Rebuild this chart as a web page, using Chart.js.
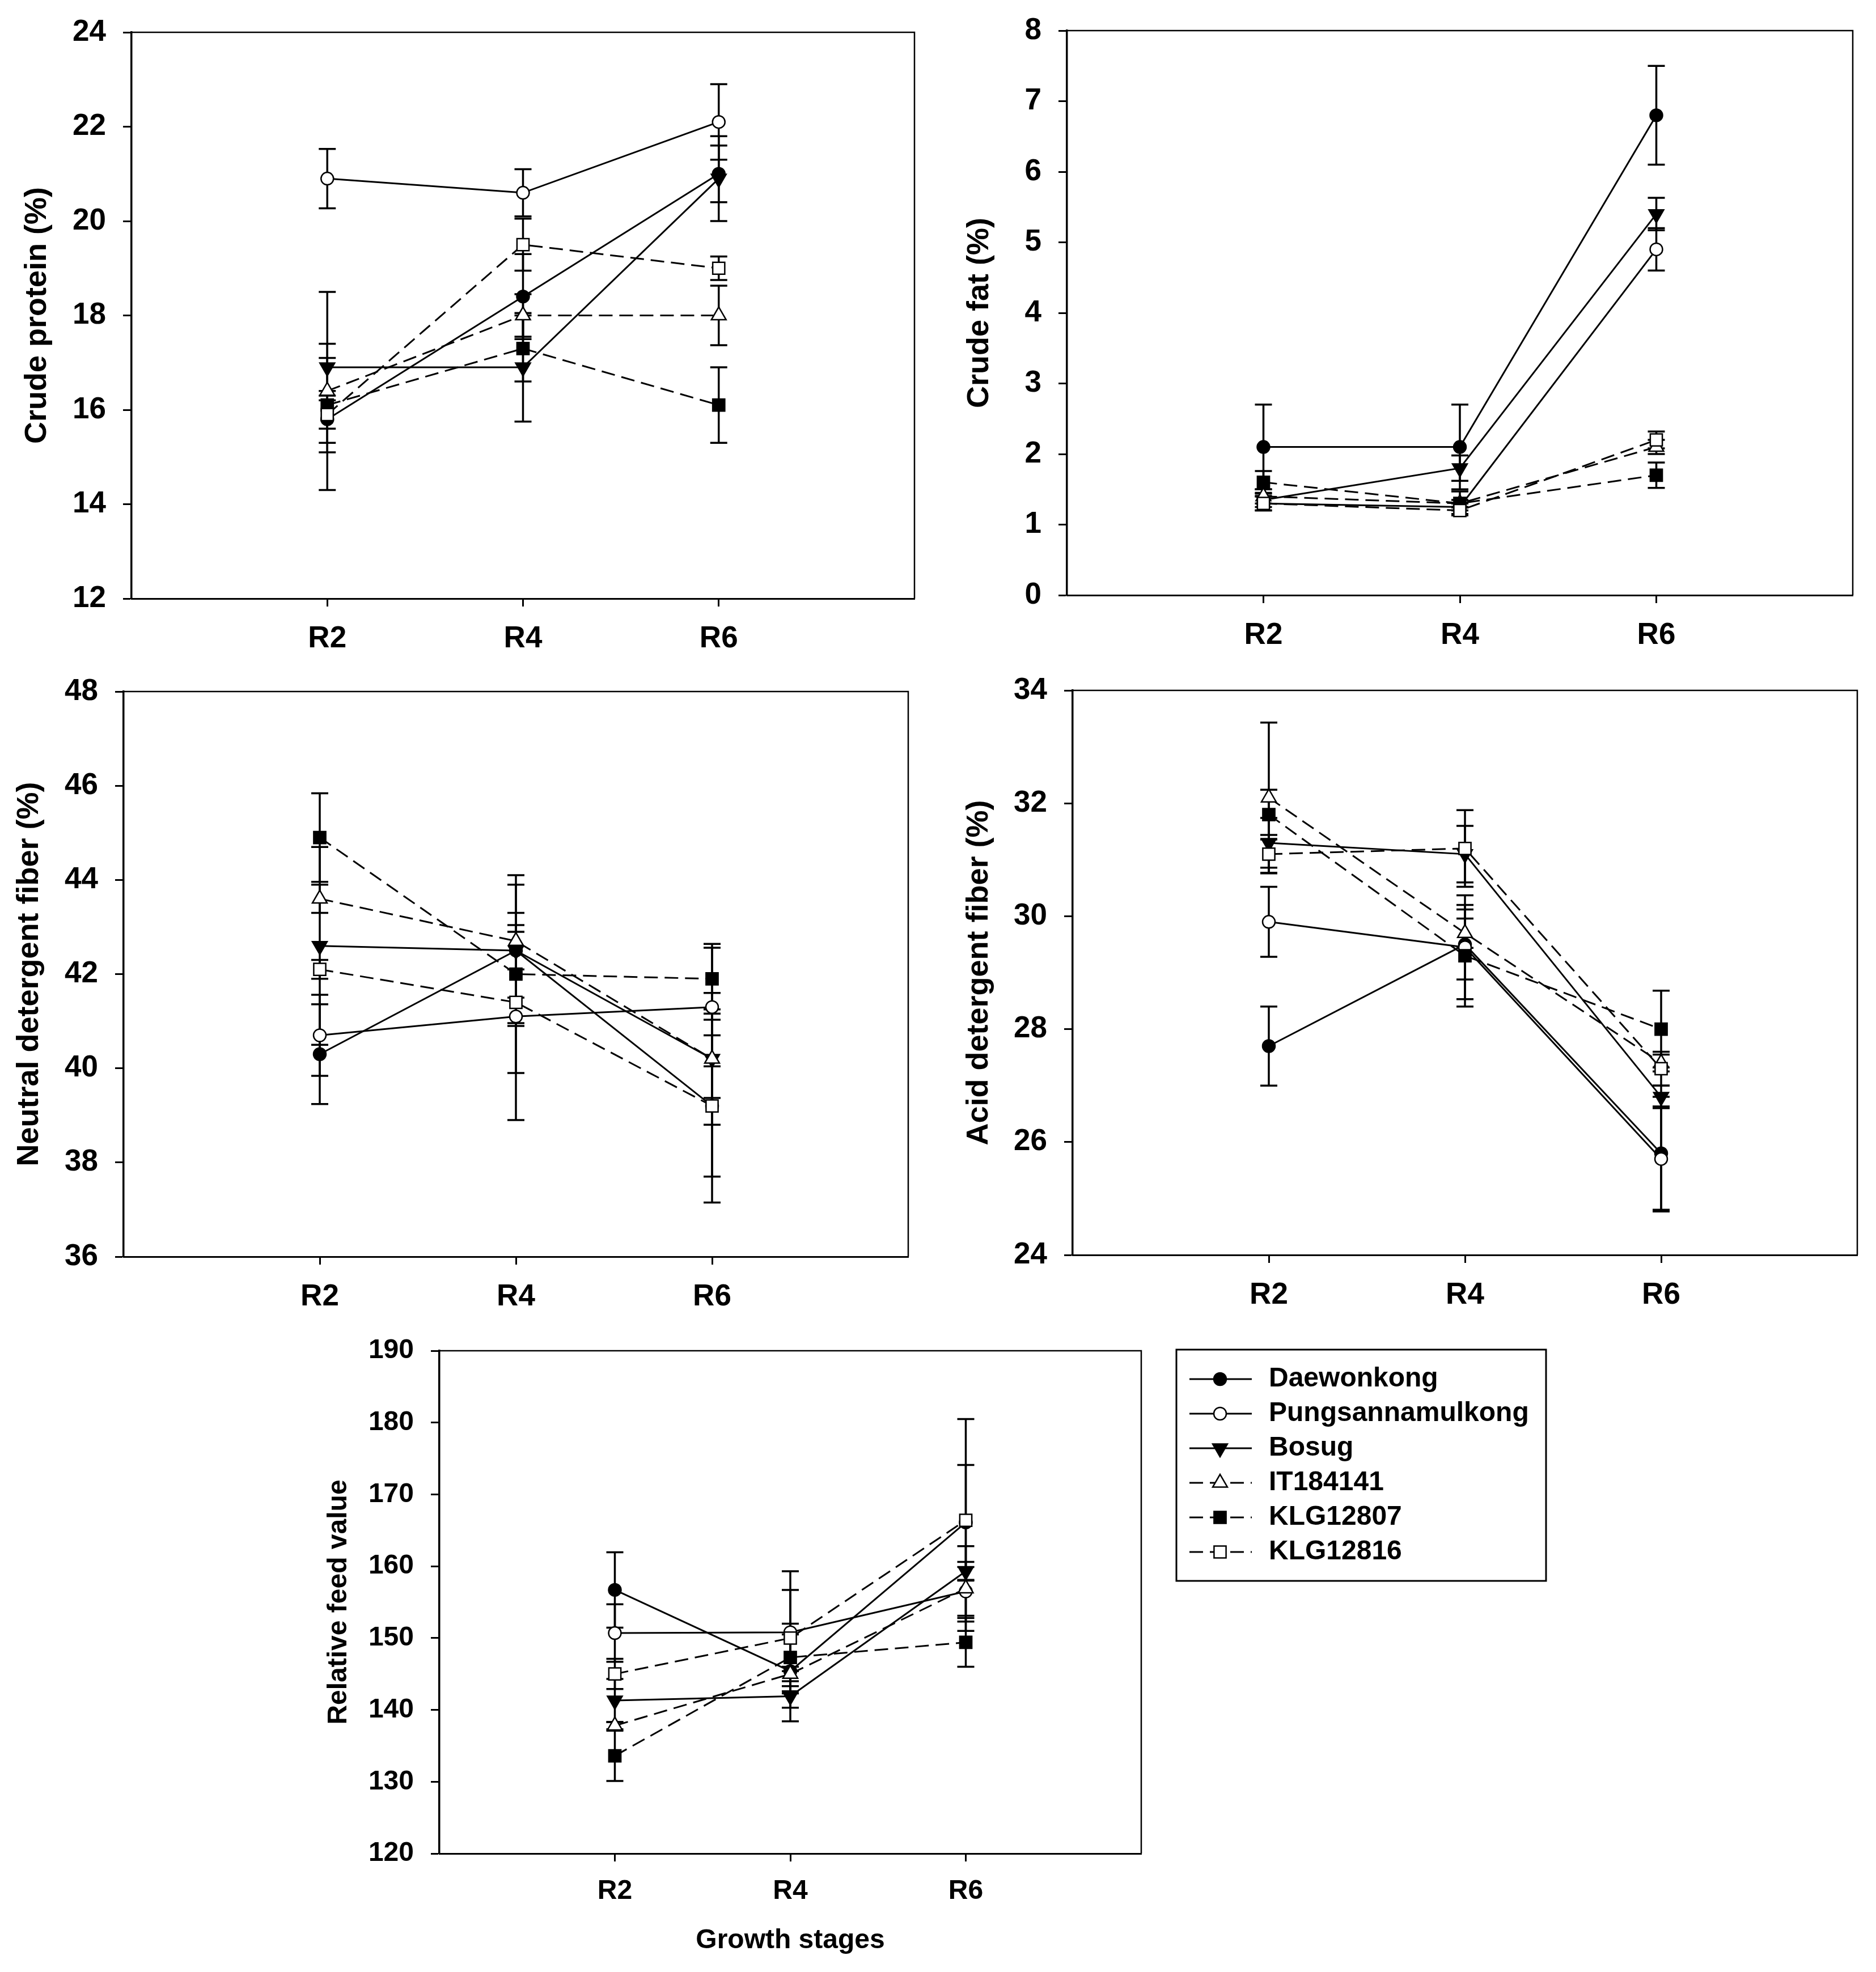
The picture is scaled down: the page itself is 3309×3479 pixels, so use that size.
<!DOCTYPE html>
<html><head><meta charset="utf-8">
<script src="https://cdn.jsdelivr.net/npm/chart.js@4.4.1/dist/chart.umd.min.js"></script>
<style>
html,body{margin:0;padding:0;background:#fff;}
body{width:3309px;height:3479px;position:relative;overflow:hidden;}
canvas{position:absolute;}
</style></head><body>
<canvas id="c1"></canvas><canvas id="c2"></canvas><canvas id="c3"></canvas><canvas id="c4"></canvas><canvas id="c5"></canvas>
<script>
// ---------- DATA ----------
const stages = ['R2', 'R4', 'R6'];
const cultivars = ['Daewonkong', 'Pungsannamulkong', 'Bosug', 'IT184141', 'KLG12807', 'KLG12816'];

// rows follow cultivars order; columns follow stages
const proteinMeans = [[15.8, 18.4, 21.0], [20.9, 20.6, 22.1], [16.9, 16.9, 20.9], [16.4, 18.0, 18.0], [16.1, 17.3, 16.1], [15.9, 19.5, 19.0]];
const proteinErrors = [[0.5, 0.9, 0.6], [0.63, 0.5, 0.8], [0.5, 1.15, 0.9], [2.1, 0.45, 0.63], [1.0, 0.7, 0.8], [0.3, 0.55, 0.25]];
const proteinTicks = [12, 14, 16, 18, 20, 22, 24];

const fatMeans = [[2.1, 2.1, 6.8], [1.3, 1.25, 4.9], [1.35, 1.8, 5.4], [1.4, 1.3, 2.1], [1.6, 1.3, 1.7], [1.3, 1.2, 2.2]];
const fatErrors = [[0.6, 0.6, 0.7], [0.1, 0.05, 0.3], [0.1, 0.18, 0.23], [0.1, 0.17, 0.1], [0.16, 0.05, 0.18], [0.1, 0.05, 0.12]];
const fatTicks = [0, 1, 2, 3, 4, 5, 6, 7, 8];

const ndfMeans = [[40.3, 42.5, 39.2], [40.7, 41.1, 41.3], [42.6, 42.5, 40.2], [43.6, 42.7, 40.2], [44.9, 42.0, 41.9], [42.1, 41.4, 39.2]];
const ndfErrors = [[1.06, 0.4, 2.05], [0.86, 2.2, 1.26], [2.1, 1.6, 0.83], [0.3, 1.2, 1.4], [0.94, 1.04, 0.74], [0.2, 1.5, 1.5]];
const ndfTicks = [36, 38, 40, 42, 44, 46, 48];

const adfMeans = [[27.7, 29.5, 25.8], [29.9, 29.45, 25.7], [31.3, 31.1, 26.8], [32.1, 29.7, 27.4], [31.8, 29.3, 28.0], [31.1, 31.2, 27.3]];
const adfErrors = [[0.7, 0.62, 1.0], [0.62, 0.92, 0.93], [0.44, 0.5, 0.2], [1.33, 0.26, 0.15], [0.44, 0.9, 0.68], [0.34, 0.68, 0.3]];
const adfTicks = [24, 26, 28, 30, 32, 34];

const rfvMeans = [[156.7, 145.4, 166.1], [150.7, 150.8, 156.5], [141.3, 141.9, 159.3], [137.8, 145.0, 156.9], [133.6, 147.3, 149.4], [145.0, 150.0, 166.4]];
const rfvErrors = [[5.25, 5.1, 8.0], [4.0, 8.5, 3.4], [3.0, 3.5, 1.3], [0.5, 1.0, 5.9], [3.5, 4.7, 3.4], [2.1, 6.7, 14.1]];
const rfvTicks = [120, 130, 140, 150, 160, 170, 180, 190];

// ---------- STYLES ----------
const seriesStyle = ['circle', 'circle', 'triangle', 'triangle', 'rect', 'rect'];
const seriesRotation = [0, 0, 180, 0, 0, 0];
const seriesRadius = [11, 11, 15, 15, 15, 15];
const seriesFilled = [true, false, true, false, true, false];
const seriesDashed = [false, false, false, true, true, true];
const DASH = [24, 12];

Chart.defaults.font.family = '"Liberation Sans", Arial, sans-serif';
Chart.defaults.color = '#000';

const errorBars = {
  id: 'errorBars',
  beforeDatasetsDraw(chart) {
    const ctx = chart.ctx, xs = chart.scales.x, ys = chart.scales.y;
    ctx.save();
    ctx.strokeStyle = '#000'; ctx.lineWidth = 3.5; ctx.setLineDash([]);
    chart.data.datasets.forEach(ds => {
      ds.data.forEach((p, i) => {
        const e = ds.err[i];
        const x = xs.getPixelForValue(p.x);
        const y1 = ys.getPixelForValue(p.y + e), y2 = ys.getPixelForValue(p.y - e);
        ctx.beginPath();
        ctx.moveTo(x, y1); ctx.lineTo(x, y2);
        ctx.moveTo(x - 15, y1); ctx.lineTo(x + 15, y1);
        ctx.moveTo(x - 15, y2); ctx.lineTo(x + 15, y2);
        ctx.stroke();
      });
    });
    ctx.restore();
  }
};

const frame = {
  id: 'frame',
  afterDraw(chart) {
    const ctx = chart.ctx, a = chart.chartArea;
    ctx.save();
    ctx.strokeStyle = '#000'; ctx.lineWidth = 2.5; ctx.setLineDash([]);
    ctx.beginPath();
    ctx.moveTo(a.left, a.top); ctx.lineTo(a.right, a.top); ctx.lineTo(a.right, a.bottom);
    ctx.stroke();
    ctx.restore();
  }
};

const legendBox = {
  id: 'legendBox',
  afterDraw(chart, args, opts) {
    if (!opts || !opts.show) return;
    const ctx = chart.ctx, a = chart.chartArea;
    const x0 = a.right + 62, y0 = a.top - 2, w = 652, h = 408;
    ctx.save();
    ctx.strokeStyle = '#000'; ctx.lineWidth = 3; ctx.setLineDash([]);
    ctx.strokeRect(x0, y0, w, h);
    ctx.font = 'bold 48px "Liberation Sans", Arial, sans-serif';
    ctx.textBaseline = 'middle'; ctx.textAlign = 'left';
    chart.data.datasets.forEach((ds, k) => {
      const y = y0 + 52 + k * 61;
      ctx.strokeStyle = '#000'; ctx.lineWidth = 3;
      ctx.setLineDash(ds.borderDash || []);
      ctx.beginPath(); ctx.moveTo(x0 + 23, y); ctx.lineTo(x0 + 133, y); ctx.stroke();
      ctx.setLineDash([]);
      ctx.fillStyle = ds.pointBackgroundColor; ctx.strokeStyle = '#000'; ctx.lineWidth = 2.5;
      Chart.helpers.drawPoint(ctx, {pointStyle: ds.pointStyle, rotation: ds.pointRotation, radius: ds.pointRadius, borderWidth: 2.5}, x0 + 77, y);
      ctx.fillStyle = '#000';
      ctx.fillText(ds.label, x0 + 163, y);
    });
    ctx.restore();
  }
};

const PAD_L = 220, PAD_T = 75;

function makePanel(id, area, means, errs, yTicks, yTitle, o) {
  const padB = o.padB || 170, padR = o.padR || 40;
  const W = area.r - area.l + PAD_L + padR;
  const H = area.b - area.t + PAD_T + padB;
  const cv = document.getElementById(id);
  cv.width = W; cv.height = H;
  cv.style.left = (area.l - PAD_L) + 'px';
  cv.style.top = (area.t - PAD_T) + 'px';
  cv.style.width = W + 'px'; cv.style.height = H + 'px';

  const datasets = cultivars.map((name, k) => ({
    label: name,
    data: means[k].map((v, i) => ({x: i + 1, y: v})),
    err: errs[k],
    order: cultivars.length - k,
    borderColor: '#000',
    borderWidth: 3,
    borderDash: seriesDashed[k] ? DASH : [],
    pointStyle: seriesStyle[k],
    pointRotation: seriesRotation[k],
    pointRadius: seriesRadius[k],
    pointBackgroundColor: seriesFilled[k] ? '#000' : '#fff',
    pointBorderColor: '#000',
    pointBorderWidth: 2.5,
    fill: false,
    tension: 0,
    clip: false
  }));

  const tickFont = {family: '"Liberation Sans", Arial, sans-serif', weight: 'bold', size: o.tickSize};
  const titleFont = {family: '"Liberation Sans", Arial, sans-serif', weight: 'bold', size: o.titleSize};

  return new Chart(cv, {
    type: 'line',
    data: {datasets},
    plugins: [errorBars, frame, legendBox],
    options: {
      responsive: false, animation: false, devicePixelRatio: 1,
      layout: {padding: {left: 0, top: PAD_T, right: padR, bottom: 0}},
      plugins: {legend: {display: false}, tooltip: {enabled: false}, legendBox: {show: !!o.legend}},
      scales: {
        x: {
          type: 'linear', min: 0, max: stages.length + 1,
          afterBuildTicks: s => { s.ticks = stages.map((_, i) => ({value: i + 1})); },
          afterFit: s => { s.height = padB; },
          ticks: {callback: v => stages[v - 1] || '', font: tickFont, color: '#000', padding: o.xPad, maxRotation: 0, autoSkip: false},
          grid: {drawOnChartArea: false, drawTicks: true, tickLength: 14, tickWidth: 3, tickColor: '#000'},
          border: {display: true, color: '#000', width: 3},
          title: o.xTitle ? {display: true, text: o.xTitle, font: titleFont, color: '#000', padding: {top: 0, bottom: o.xTitlePad}} : {display: false}
        },
        y: {
          type: 'linear', min: yTicks[0], max: yTicks[yTicks.length - 1],
          afterBuildTicks: s => { s.ticks = yTicks.map(v => ({value: v})); },
          afterFit: s => { s.width = PAD_L; },
          ticks: {callback: v => String(v), font: tickFont, color: '#000', padding: 30},
          grid: {drawOnChartArea: false, drawTicks: true, tickLength: 15, tickWidth: 3, tickColor: '#000'},
          border: {display: true, color: '#000', width: 3.5},
          title: {display: true, text: yTitle, font: titleFont, color: '#000', padding: {top: o.titlePad, bottom: 0}}
        }
      }
    }
  });
}

makePanel('c1', {l: 232, t: 57, r: 1613, b: 1056}, proteinMeans, proteinErrors, proteinTicks, 'Crude protein (%)',
  {tickSize: 53, titleSize: 54, titlePad: 21.6, xPad: 26});
makePanel('c2', {l: 1882, t: 54, r: 3268, b: 1050}, fatMeans, fatErrors, fatTicks, 'Crude fat (%)',
  {tickSize: 53, titleSize: 54, titlePad: 33.6, xPad: 26});
makePanel('c3', {l: 218, t: 1220, r: 1602, b: 2217}, ndfMeans, ndfErrors, ndfTicks, 'Neutral detergent fiber (%)',
  {tickSize: 53, titleSize: 54, titlePad: 21.6, xPad: 26});
makePanel('c4', {l: 1892, t: 1218, r: 3276, b: 2214}, adfMeans, adfErrors, adfTicks, 'Acid detergent fiber (%)',
  {tickSize: 53, titleSize: 54, titlePad: 22.6, xPad: 26});
makePanel('c5', {l: 775, t: 2383, r: 2013, b: 3270}, rfvMeans, rfvErrors, rfvTicks, 'Relative feed value',
  {tickSize: 48, titleSize: 48, titlePad: 14.2, xPad: 24, padB: 200, padR: 747, xTitle: 'Growth stages', xTitlePad: 17, legend: true});
</script>
</body></html>
